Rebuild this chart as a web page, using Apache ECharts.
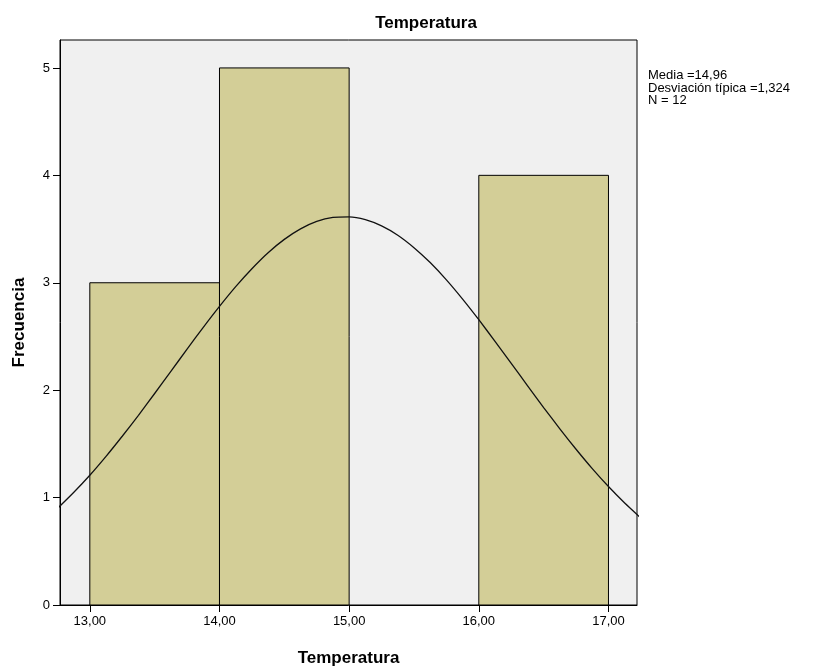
<!DOCTYPE html>
<html>
<head>
<meta charset="utf-8">
<script src="https://cdn.jsdelivr.net/npm/echarts@6/dist/echarts.min.js"></script>
<style>html,body{margin:0;padding:0;background:#fff;}#c{width:815px;height:667px;}</style>
</head>
<body>
<div id="c"></div>
<script>
const binStarts = [13, 14, 15, 16];
const binWidth = 1;
const counts = [3, 5, 0, 4];
const xTicks = [13, 14, 15, 16, 17];
const yTicks = [0, 1, 2, 3, 4, 5];
const curveX = [12.75, 12.875, 13.0, 13.125, 13.25, 13.375, 13.5, 13.625, 13.75, 13.875, 14.0, 14.125, 14.25, 14.375, 14.5, 14.625, 14.75, 14.875, 15.0,
                15.125, 15.25, 15.375, 15.5, 15.625, 15.75, 15.875, 16.0, 16.125, 16.25, 16.375, 16.5, 16.625, 16.75, 16.875, 17.0, 17.125, 17.25];
const curveY = [0.898, 1.047, 1.208, 1.384, 1.571, 1.766, 1.969, 2.175, 2.382, 2.585, 2.780, 2.964, 3.131, 3.280, 3.404, 3.502, 3.571, 3.609, 3.614,
                3.588, 3.530, 3.443, 3.327, 3.188, 3.027, 2.848, 2.656, 2.455, 2.250, 2.043, 1.838, 1.640, 1.450, 1.270, 1.103, 0.950, 0.810];
const statsLines = ['Media =14,96', 'Desviación típica =1,324', 'N = 12'];

const FONT = '"Liberation Sans Narrow", "Liberation Sans", Arial, sans-serif';
const chart = echarts.init(document.getElementById('c'));
chart.setOption({
  animation: false,
  backgroundColor: '#ffffff',
  title: {
    text: 'Temperatura', left: 421, top: 10, textAlign: 'center',
    textStyle: { fontFamily: FONT, fontSize: 17, fontWeight: 'bold', color: '#000' }
  },
  grid: {
    left: 60, right: 178, top: 40, bottom: 62,
    outerBoundsMode: 'none', containLabel: false,
    show: true, backgroundColor: '#f0f0f0', borderColor: '#000', borderWidth: 1
  },
  xAxis: {
    type: 'value', min: 12.77, max: 17.22,
    name: 'Temperatura', nameLocation: 'middle', nameGap: 45,
    nameTextStyle: { fontFamily: FONT, fontSize: 17, fontWeight: 'bold', color: '#000' },
    axisLine: { show: true, lineStyle: { color: '#000' } },
    axisTick: { show: true, customValues: xTicks, length: 7, lineStyle: { color: '#000' } },
    axisLabel: { customValues: xTicks, fontFamily: FONT, fontSize: 13, color: '#000', margin: 10,
      formatter: v => v.toFixed(2).replace('.', ',') },
    splitLine: { show: false }
  },
  yAxis: {
    type: 'value', min: 0, max: 5.26,
    name: 'Frecuencia', nameLocation: 'middle', nameGap: 32, nameRotate: 90,
    nameTextStyle: { fontFamily: FONT, fontSize: 17, fontWeight: 'bold', color: '#000' },
    axisLine: { show: true, lineStyle: { color: '#000' } },
    axisTick: { show: true, customValues: yTicks, length: 7, lineStyle: { color: '#000' } },
    axisLabel: { customValues: yTicks, fontFamily: FONT, fontSize: 13, color: '#000', margin: 10 },
    splitLine: { show: false }
  },
  graphic: [{
    type: 'text', left: 648, top: 69,
    style: { text: statsLines.join('\n'), fontFamily: FONT, fontSize: 13, lineHeight: 12.5, fill: '#000' }
  }],
  series: [{
    type: 'custom',
    data: binStarts.map((s, i) => [s, s + binWidth, counts[i]]),
    renderItem: (params, api) => {
      const p0 = api.coord([api.value(0), api.value(2)]);
      const p1 = api.coord([api.value(1), 0]);
      if (api.value(2) <= 0) return null;
      return {
        type: 'rect',
        shape: { x: p0[0], y: p0[1], width: p1[0] - p0[0], height: p1[1] - p0[1] },
        style: { fill: '#d3ce97', stroke: '#000', lineWidth: 1 }
      };
    },
    clip: true, z: 2
  }, {
    type: 'line', smooth: 0.2, symbol: 'none', clip: true, z: 3,
    data: curveX.map((x, i) => [x, curveY[i]]),
    lineStyle: { color: '#111', width: 1.3 }
  }]
});
</script>
</body>
</html>
